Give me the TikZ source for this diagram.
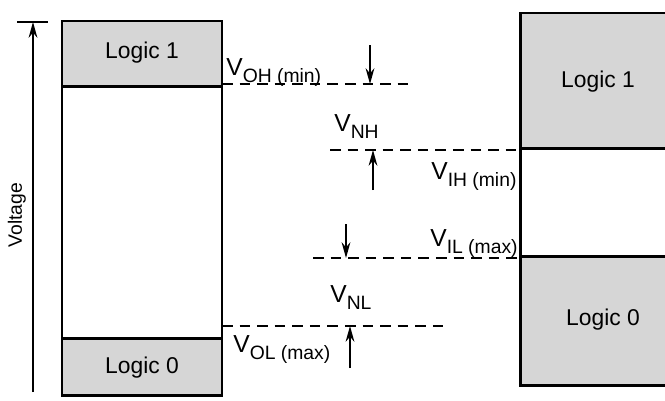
\documentclass[tikz,border=0pt]{standalone}
\usepackage{fontspec}
\setmainfont{Liberation Sans}
\usetikzlibrary{arrows.meta}
\definecolor{zonegray}{RGB}{214,214,214}
\newcommand{\vlev}[1]{\fontsize{14}{16}\selectfont V\raisebox{-0.55ex}{\fontsize{11}{13}\selectfont #1}}
\tikzset{
  box/.style={line width=1.7pt},
  zone/.style={fill=zonegray},
  lvl/.style={line width=0.8pt,dash pattern=on 6pt off 4pt},
  nm/.style={-{Stealth[length=9pt,width=5pt]},line width=0.8pt},
  lbl/.style={anchor=base west,inner sep=0pt,font=\fontsize{14}{16}\selectfont},
  logic/.style={inner sep=0pt,font=\fontsize{13}{15}\selectfont}
}
\begin{document}
\begin{tikzpicture}[x=0.02cm,y=-0.02cm]
  \clip (0,0) rectangle (665,400);
  % output side
  \fill[zone] (62,21) rectangle (222,86);
  \fill[zone] (62,338) rectangle (222,395);
  \draw[box] (62,21) rectangle (222,395);
  \draw[box] (62,86) -- (222,86);
  \draw[box] (62,338) -- (222,338);
  \node[logic] (out1) at (142,53) {Logic 1};
  \node[logic] (out0) at (142,368) {Logic 0};
  % input side
  \fill[zone] (520,13) rectangle (690,148);
  \fill[zone] (520,256) rectangle (690,385);
  \draw[box] (520,13) rectangle (690,385);
  \draw[box] (520,148) -- (690,148);
  \draw[box] (520,256) -- (690,256);
  \node[logic] (in1) at (598,82) {Logic 1};
  \node[logic] (in0) at (603,320) {Logic 0};
  % voltage axis
  \coordinate (ax0) at (33,392);
  \coordinate (ax1) at (33,22);
  \draw[line width=0.8pt] (17,22) -- (48,22);
  \draw[-{Stealth[length=9pt,width=5pt]},line width=0.8pt] (ax0) -- (ax1);
  \node[rotate=90,font=\fontsize{11}{13}\selectfont] (volt) at (17,215) {Voltage};
  % levels
  \coordinate (oh0) at (222,84);  \coordinate (oh1) at (415,84);
  \coordinate (ih0) at (330,150); \coordinate (ih1) at (520,150);
  \coordinate (il0) at (313,258); \coordinate (il1) at (520,258);
  \coordinate (ol0) at (222,326); \coordinate (ol1) at (443,326);
  \draw[lvl] (oh0) -- (oh1);
  \draw[lvl] (ih0) -- (ih1);
  \draw[lvl] (il0) -- (il1);
  \draw[lvl] (ol0) -- (ol1);
  \node[lbl] (voh) at (226,75) {\vlev{OH (min)}};
  \node[lbl] (vih) at (431,179) {\vlev{IH (min)}};
  \node[lbl] (vil) at (430,246) {\vlev{IL (max)}};
  \node[lbl] (vol) at (233,352) {\vlev{OL (max)}};
  \node[lbl] (vnh) at (334,131) {\vlev{NH}};
  \node[lbl] (vnl) at (330,302) {\vlev{NL}};
  % noise margin arrows
  \coordinate (a1) at (370,45);  \coordinate (a1e) at (370,84);
  \coordinate (a2) at (373,190); \coordinate (a2e) at (373,150);
  \coordinate (a3) at (346,224); \coordinate (a3e) at (346,258);
  \coordinate (a4) at (350,368); \coordinate (a4e) at (350,326);
  \draw[nm] (a1) -- (a1e);
  \draw[nm] (a2) -- (a2e);
  \draw[nm] (a3) -- (a3e);
  \draw[nm] (a4) -- (a4e);
\end{tikzpicture}
\end{document}
